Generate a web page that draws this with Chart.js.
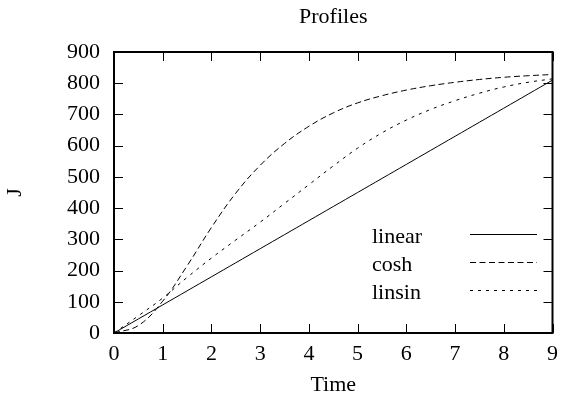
<!DOCTYPE html>
<html>
<head>
<meta charset="utf-8">
<script src="https://cdn.jsdelivr.net/npm/chart.js@4.4.0/dist/chart.umd.min.js"></script>
<style>
  html, body { margin: 0; padding: 0; background: #fff; }
  #wrap { width: 566px; height: 402px; }
</style>
</head>
<body>
<div id="wrap"><canvas id="profChart" width="566" height="402"></canvas></div>
<script>
// --- data ---
const times = [0, 0.5, 1, 1.5, 2, 2.5, 3, 3.5, 4, 4.5, 5, 5.5, 6, 6.5, 7, 7.5, 8, 8.5, 9];
const linearVals = [0, 45, 90, 135, 180, 225, 270, 315, 360, 405, 450, 495, 540, 585, 630, 675, 720, 765, 810];
const coshVals = [0, 24, 102, 215, 338, 448, 537, 607, 662, 705, 737, 760, 778, 792, 803, 812, 819, 824, 828];
const linsinVals = [0, 55, 112, 178, 240, 298, 355, 415, 475, 535, 592, 641, 682, 716, 744, 768, 788, 803, 814];
const xTicks = [0, 1, 2, 3, 4, 5, 6, 7, 8, 9];
const yTicks = [0, 100, 200, 300, 400, 500, 600, 700, 800, 900];
const seriesNames = ["linear", "cosh", "linsin"];

const FONT = "Liberation Serif, Times New Roman, serif";
const FSIZE = 22;

function toPoints(vals) {
    return times.map((t, i) => ({ x: t, y: vals[i] }));
}

// frame, inward ticks, title, axis titles and the in-plot key
const gnuplotLook = {
    id: "gnuplotLook",
    afterDatasetsDraw(chart) {
        const c = chart.ctx;
        const a = chart.chartArea;
        const xs = chart.scales.x;
        const ys = chart.scales.y;
        const tl = 9;

        c.save();
        c.strokeStyle = "#000";
        c.lineWidth = 1;
        c.beginPath();
        xTicks.forEach(v => {
            const px = Math.round(xs.getPixelForValue(v)) + 0.5;
            c.moveTo(px, a.bottom); c.lineTo(px, a.bottom - tl);
            c.moveTo(px, a.top); c.lineTo(px, a.top + tl);
        });
        yTicks.forEach(v => {
            const py = Math.round(ys.getPixelForValue(v)) + 0.5;
            c.moveTo(a.left, py); c.lineTo(a.left + tl, py);
            c.moveTo(a.right, py); c.lineTo(a.right - tl, py);
        });
        c.stroke();

        c.lineWidth = 2;
        c.strokeRect(a.left, a.top, a.right - a.left, a.bottom - a.top);

        // text
        c.fillStyle = "#000";
        c.font = FSIZE + "px " + FONT;
        c.textAlign = "center";
        c.textBaseline = "middle";
        const midX = (a.left + a.right) / 2;
        c.fillText("Profiles", midX, 17);
        c.fillText("Time", midX, 385);

        c.save();
        c.translate(15, (a.top + a.bottom) / 2);
        c.rotate(-Math.PI / 2);
        c.fillText("J", 0, 0);
        c.restore();

        // key
        c.textAlign = "left";
        c.textBaseline = "alphabetic";
        chart.data.datasets.forEach((ds, i) => {
            const rowY = 234.5 + i * 28;
            c.fillText(seriesNames[i], 372, rowY + 8);
            c.lineWidth = 1;
            c.setLineDash(ds.borderDash || []);
            c.beginPath();
            c.moveTo(470, rowY);
            c.lineTo(537, rowY);
            c.stroke();
        });
        c.setLineDash([]);
        c.restore();
    }
};

new Chart(document.getElementById("profChart"), {
    type: "line",
    data: {
        datasets: [
            { label: seriesNames[0], data: toPoints(linearVals), borderDash: [] },
            { label: seriesNames[1], data: toPoints(coshVals), borderDash: [6, 3.5] },
            { label: seriesNames[2], data: toPoints(linsinVals), borderDash: [3, 5] }
        ].map(ds => Object.assign(ds, {
            borderColor: "#000",
            borderWidth: 1,
            pointRadius: 0,
            fill: false,
            tension: 0.4
        }))
    },
    options: {
        responsive: false,
        animation: false,
        devicePixelRatio: 1,
        layout: { padding: { top: 52, right: 8, left: 0, bottom: 0 } },
        plugins: {
            legend: { display: false },
            title: { display: false },
            tooltip: { enabled: false }
        },
        scales: {
            x: {
                type: "linear",
                min: 0,
                max: 9,
                afterFit: s => { s.height = 69; },
                afterBuildTicks: s => { s.ticks = xTicks.map(v => ({ value: v })); },
                grid: { display: false, drawTicks: false },
                border: { display: false },
                ticks: { color: "#000", padding: 8, font: { family: FONT, size: FSIZE } }
            },
            y: {
                type: "linear",
                min: 0,
                max: 900,
                afterFit: s => { s.width = 114; },
                afterBuildTicks: s => { s.ticks = yTicks.map(v => ({ value: v })); },
                grid: { display: false, drawTicks: false },
                border: { display: false },
                ticks: { color: "#000", padding: 14, font: { family: FONT, size: FSIZE } }
            }
        }
    },
    plugins: [gnuplotLook]
});
</script>
</body>
</html>
